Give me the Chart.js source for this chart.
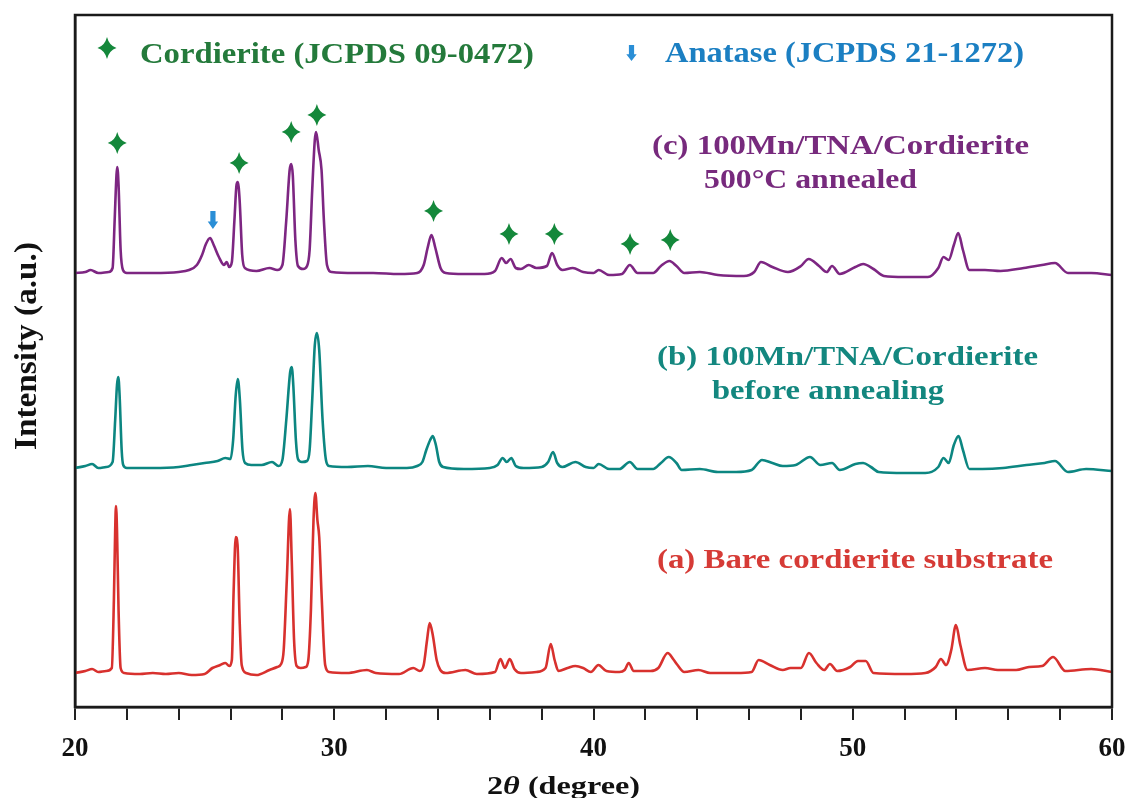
<!DOCTYPE html>
<html>
  <head>
    <title>XRD patterns</title>
    <script src="https://cdn.jsdelivr.net/npm/chart.js@4.4.1/dist/chart.umd.min.js"></script>
    <style>
      body { margin: 0; background: #fff; }
    </style>
  </head>
  <body>
    <canvas id="canvas" width="1126" height="798"></canvas>
    <script>
      // (a) bare cordierite substrate
      const thetaA = [20.0, 20.4, 20.66, 20.9, 21.2, 21.42, 21.5, 21.55, 21.58, 21.62, 21.68, 21.76, 21.9, 22.5, 23.0, 23.5, 24.0, 24.5, 25.0, 25.3,
        25.6, 25.8, 25.95, 26.05, 26.12, 26.2, 26.27, 26.35, 26.43, 26.6, 27.0, 27.5, 27.8, 27.95, 28.05, 28.17, 28.29, 28.36, 28.45, 28.55,
        28.7, 28.9, 29.0, 29.1, 29.2, 29.27, 29.35, 29.42, 29.52, 29.65, 29.8, 30.5, 31.26, 31.6, 32.5, 33.05, 33.3, 33.45, 33.58, 33.68,
        33.8, 33.95, 34.09, 34.3, 35.06, 35.5, 36.2, 36.41, 36.58, 36.77, 36.95, 37.2, 37.8, 38.15, 38.35, 38.5, 38.65, 39.0, 39.3, 39.6,
        39.9, 40.19, 40.5, 41.0, 41.2, 41.36, 41.55, 42.2, 42.5, 42.86, 43.1, 43.24, 43.5, 44.05, 44.5, 45.5, 46.1, 46.37, 46.8, 47.3,
        47.6, 48.0, 48.31, 48.6, 48.9, 49.12, 49.4, 49.9, 50.2, 50.5, 50.8, 52.0, 52.8, 53.2, 53.4, 53.6, 53.8, 53.98, 54.15, 54.43,
        55.1, 55.6, 56.3, 56.8, 57.3, 57.73, 58.2, 59.2, 60.0];
      const intensityA = [34, 36, 38, 35, 36, 39, 107, 177, 201, 177, 97, 39, 34, 33, 34, 33, 34, 32, 33, 39,
        42, 44, 41, 47, 117, 170, 162, 87, 42, 34, 32, 37, 40, 43, 57, 127, 198, 147, 67, 41,
        39, 40, 47, 97, 187, 214, 187, 170, 107, 42, 35, 34, 37, 34, 33, 39, 36, 42, 67, 84,
        72, 47, 37, 34, 37, 33, 35, 48, 39, 48, 38, 34, 35, 39, 63, 47, 36, 39, 41, 39,
        35, 42, 36, 35, 37, 44, 36, 36, 39, 54, 47, 42, 35, 37, 34, 34, 35, 47, 42, 37,
        39, 39, 54, 44, 37, 43, 36, 40, 46, 46, 34, 33, 34, 40, 48, 42, 57, 82, 62, 37,
        39, 37, 37, 40, 41, 50, 36, 38, 35];

      // (b) 100Mn/TNA/Cordierite before annealing
      const thetaB = [20.0, 20.4, 20.66, 20.9, 21.2, 21.45, 21.55, 21.62, 21.67, 21.72, 21.8, 21.86, 22.0, 23.0, 24.0, 24.5, 25.0, 25.5, 25.8, 26.0,
        26.1, 26.2, 26.28, 26.36, 26.46, 26.56, 26.8, 27.2, 27.6, 27.85, 28.0, 28.15, 28.3, 28.36, 28.42, 28.52, 28.6, 28.75, 28.95, 29.05,
        29.15, 29.25, 29.33, 29.42, 29.55, 29.68, 29.8, 30.5, 31.3, 32.0, 32.8, 33.2, 33.4, 33.55, 33.7, 33.8, 33.92, 34.05, 34.2, 35.0,
        36.0, 36.3, 36.5, 36.65, 36.83, 37.0, 37.3, 38.0, 38.25, 38.44, 38.6, 38.8, 39.3, 39.7, 40.0, 40.2, 40.6, 41.0, 41.4, 41.7,
        42.3, 42.6, 42.9, 43.2, 43.4, 44.1, 44.8, 45.5, 46.1, 46.5, 46.9, 47.3, 47.8, 48.35, 48.75, 49.2, 49.5, 50.1, 50.4, 50.7,
        51.0, 52.0, 52.8, 53.3, 53.5, 53.7, 53.9, 54.08, 54.25, 54.5, 55.0, 55.8, 56.7, 57.4, 57.8, 58.3, 59.0, 60.0];
      const intensityB = [239, 241, 243, 239, 240, 245, 287, 322, 330, 312, 257, 242, 239, 239, 240, 242, 244, 246, 249, 248,
        267, 312, 328, 307, 257, 244, 242, 242, 245, 241, 247, 287, 335, 340, 322, 267, 248, 245, 246, 257,
        307, 362, 374, 357, 287, 247, 241, 240, 241, 239, 239, 241, 245, 257, 267, 271, 262, 245, 240, 238,
        239, 242, 249, 245, 249, 241, 239, 240, 245, 255, 244, 240, 245, 240, 239, 243, 238, 238, 245, 238,
        238, 244, 250, 244, 237, 238, 235, 235, 237, 247, 244, 241, 242, 250, 242, 244, 237, 243, 244, 240,
        235, 234, 234, 240, 249, 244, 262, 271, 257, 238, 238, 239, 242, 244, 246, 235, 238, 236];

      // (c) 100Mn/TNA/Cordierite 500 C annealed
      const thetaC = [20.0, 20.4, 20.6, 20.9, 21.3, 21.45, 21.53, 21.6, 21.63, 21.68, 21.76, 21.85, 22.0, 23.0, 24.0, 24.4, 24.7, 24.9, 25.05, 25.21,
        25.35, 25.55, 25.75, 25.85, 25.95, 26.05, 26.15, 26.23, 26.28, 26.35, 26.45, 26.55, 27.0, 27.5, 27.8, 28.0, 28.15, 28.28, 28.34, 28.4,
        28.5, 28.6, 28.8, 28.95, 29.05, 29.15, 29.25, 29.3, 29.4, 29.51, 29.6, 29.72, 29.9, 30.8, 31.5, 32.5, 33.2, 33.45, 33.6, 33.75,
        33.9, 34.1, 34.3, 35.0, 35.8, 36.2, 36.46, 36.63, 36.8, 37.0, 37.2, 37.5, 37.8, 38.2, 38.4, 38.6, 38.8, 39.2, 39.6, 40.0,
        40.2, 40.6, 41.1, 41.4, 41.7, 42.3, 42.6, 42.93, 43.2, 43.5, 44.1, 44.8, 45.8, 46.2, 46.46, 46.9, 47.5, 48.0, 48.3, 48.7,
        49.0, 49.2, 49.5, 50.1, 50.4, 50.8, 51.2, 52.0, 52.9, 53.3, 53.5, 53.7, 53.9, 54.07, 54.25, 54.5, 55.1, 55.7, 56.6, 57.3,
        57.8, 58.3, 59.2, 60.0];
      const intensityC = [434, 435, 437, 434, 435, 439, 487, 532, 540, 522, 457, 437, 434, 434, 435, 437, 442, 452, 463, 469,
        462, 450, 442, 445, 440, 445, 487, 522, 525, 507, 452, 439, 436, 439, 437, 442, 487, 537, 543, 532,
        467, 441, 438, 441, 457, 517, 567, 575, 557, 537, 487, 442, 435, 434, 434, 433, 434, 442, 459, 472,
        459, 439, 434, 433, 433, 436, 449, 444, 448, 439, 438, 442, 439, 441, 454, 442, 437, 439, 435, 434,
        437, 432, 433, 442, 434, 434, 441, 446, 441, 434, 435, 432, 431, 435, 445, 440, 435, 441, 448, 441,
        435, 441, 433, 440, 443, 438, 431, 430, 430, 439, 450, 447, 462, 474, 457, 437, 437, 436, 439, 442,
        444, 434, 434, 432];

      // phase markers above trace (c)
      const cordieriteTheta = [21.63, 26.33, 28.34, 29.33, 33.83, 36.74, 38.49, 41.41, 42.96];
      const cordieriteY = [564, 544, 575, 592, 496, 473, 473, 463, 467];
      const anataseTheta = [25.32];
      const anataseY = [487];

      const SERIF = "'Liberation Serif', 'Times New Roman', serif";
      const pairs = (xs, ys) => xs.map((v, i) => ({ x: v, y: ys[i] }));

      function star(ctx, cx, cy, rx, ry, color) {
        const k = 0.22;
        ctx.beginPath();
        ctx.moveTo(cx, cy - ry);
        ctx.quadraticCurveTo(cx + rx * k, cy - ry * k, cx + rx, cy);
        ctx.quadraticCurveTo(cx + rx * k, cy + ry * k, cx, cy + ry);
        ctx.quadraticCurveTo(cx - rx * k, cy + ry * k, cx - rx, cy);
        ctx.quadraticCurveTo(cx - rx * k, cy - ry * k, cx, cy - ry);
        ctx.fillStyle = color;
        ctx.fill();
      }

      function downArrow(ctx, cx, top, bottom, color) {
        const h = bottom - top, sw = 2.6, hw = 5.2, hh = h * 0.42;
        ctx.beginPath();
        ctx.moveTo(cx - sw, top);
        ctx.lineTo(cx + sw, top);
        ctx.lineTo(cx + sw, bottom - hh);
        ctx.lineTo(cx + hw, bottom - hh);
        ctx.lineTo(cx, bottom);
        ctx.lineTo(cx - hw, bottom - hh);
        ctx.lineTo(cx - sw, bottom - hh);
        ctx.closePath();
        ctx.fillStyle = color;
        ctx.fill();
      }

      // draw text squeezed or stretched to the width it has in the figure
      function fitText(ctx, text, left, base, width, size, color) {
        ctx.save();
        ctx.font = 'bold ' + size + 'px ' + SERIF;
        const w = ctx.measureText(text).width;
        ctx.translate(left, base);
        ctx.scale(width / w, 1);
        ctx.fillStyle = color;
        ctx.textBaseline = 'alphabetic';
        ctx.fillText(text, 0, 0);
        ctx.restore();
      }

      const overlay = {
        id: 'overlay',
        afterDatasetsDraw(chart) {
          const { ctx, chartArea: a } = chart;
          const x = chart.scales.x, y = chart.scales.y;
          ctx.save();
          ctx.strokeStyle = '#1a1a1a';
          ctx.lineWidth = 2.5;
          ctx.strokeRect(a.left, a.top, a.right - a.left, a.bottom - a.top);

          cordieriteTheta.forEach((t, i) => star(ctx, x.getPixelForValue(t), y.getPixelForValue(cordieriteY[i]), 9.5, 11, '#14883b'));
          anataseTheta.forEach((t, i) => {
            const py = y.getPixelForValue(anataseY[i]);
            downArrow(ctx, x.getPixelForValue(t), py - 9, py + 9, '#2a8ed6');
          });

          // legend
          star(ctx, 107, 48, 9.5, 11, '#14883b');
          fitText(ctx, 'Cordierite (JCPDS 09-0472)', 140, 63, 394, 30, '#247a3b');
          downArrow(ctx, 631.5, 45, 61, '#2a8ed6');
          fitText(ctx, 'Anatase (JCPDS 21-1272)', 665, 62, 359, 30, '#1b7fc2');

          // sample labels
          fitText(ctx, '(c) 100Mn/TNA/Cordierite', 652, 154, 377, 28, '#772a7d');
          fitText(ctx, '500\u00b0C annealed', 704, 188, 213, 28, '#772a7d');
          fitText(ctx, '(b) 100Mn/TNA/Cordierite', 657, 365, 381, 28, '#13877f');
          fitText(ctx, 'before annealing', 712, 399, 232, 28, '#13877f');
          fitText(ctx, '(a) Bare cordierite substrate', 657, 568, 396, 28, '#d63b36');

          // axis titles
          ctx.fillStyle = '#111';
          ctx.save();
          ctx.translate(36, 346);
          ctx.rotate(-Math.PI / 2);
          ctx.font = 'bold 32px ' + SERIF;
          const yt = 'Intensity (a.u.)';
          const yw = ctx.measureText(yt).width;
          ctx.scale(208 / yw, 1);
          ctx.textAlign = 'center';
          ctx.fillText(yt, 0, 0);
          ctx.restore();

          const parts = [['2', 'bold'], ['\u03b8', 'italic bold'], [' (degree)', 'bold']];
          ctx.save();
          let total = 0;
          parts.forEach(p => { ctx.font = p[1] + ' 25px ' + SERIF; total += ctx.measureText(p[0]).width; });
          ctx.translate(487, 794);
          ctx.scale(153 / total, 1);
          let cx = 0;
          parts.forEach(p => {
            ctx.font = p[1] + ' 25px ' + SERIF;
            ctx.fillText(p[0], cx, 0);
            cx += ctx.measureText(p[0]).width;
          });
          ctx.restore();
          ctx.restore();
        }
      };

      window.onload = () => {
        const ctx = document.getElementById('canvas').getContext('2d');
        new Chart(ctx, {
          type: 'line',
          data: {
            datasets: [
              { label: '(a)', data: pairs(thetaA, intensityA), borderColor: '#d8312e' },
              { label: '(b)', data: pairs(thetaB, intensityB), borderColor: '#0c8681' },
              { label: '(c)', data: pairs(thetaC, intensityC), borderColor: '#7d2682' },
            ],
          },
          options: {
            responsive: false,
            animation: false,
            elements: {
              point: { radius: 0 },
              line: { borderWidth: 2.6, cubicInterpolationMode: 'monotone', borderJoinStyle: 'round' },
            },
            layout: { padding: { top: 15, right: 14, bottom: 0, left: 0 } },
            plugins: { legend: { display: false }, tooltip: { enabled: false } },
            scales: {
              x: {
                type: 'linear',
                min: 20,
                max: 60,
                ticks: {
                  stepSize: 2,
                  autoSkip: false,
                  maxRotation: 0,
                  padding: 13,
                  color: '#111',
                  font: { family: SERIF, size: 27, weight: 'bold' },
                  callback: (v) => (v % 10 === 0 ? String(v) : ''),
                },
                grid: { drawOnChartArea: false, drawTicks: true, tickLength: 13, color: '#222', lineWidth: 2 },
                border: { display: true, color: '#1a1a1a', width: 2.5 },
                afterFit: (s) => { s.height = 91; s.paddingLeft = 0; s.paddingRight = 0; },
              },
              y: {
                min: 0,
                max: 692,
                ticks: { display: false },
                grid: { display: false },
                border: { display: true, color: '#1a1a1a', width: 2.5 },
                afterFit: (s) => { s.width = 75; },
              },
            },
          },
          plugins: [overlay],
        });
      };
    </script>
  </body>
</html>
